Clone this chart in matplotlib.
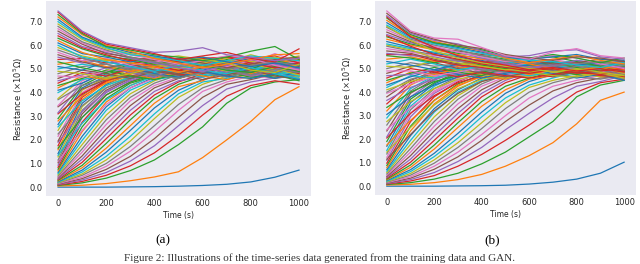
import matplotlib
matplotlib.use("Agg")
import matplotlib.pyplot as plt

# time axis (s), values read every 100 s
time_s = [0, 100, 200, 300, 400, 500, 600, 700, 800, 900, 1000]

# panel (a): resistance curves (x1e5 ohm)
curves_a = [
    [0.00, 0.00, 0.00, 0.01, 0.02, 0.04, 0.07, 0.12, 0.22, 0.42, 0.72],
    [0.05, 0.08, 0.15, 0.27, 0.43, 0.65, 1.25, 2.00, 2.78, 3.70, 4.25],
    [0.07, 0.18, 0.38, 0.70, 1.15, 1.80, 2.55, 3.55, 4.20, 4.45, 4.55],
    [0.09, 0.24, 0.50, 0.90, 1.45, 2.20, 3.05, 3.85, 4.30, 4.50, 4.35],
    [0.11, 0.30, 0.62, 1.10, 1.75, 2.60, 3.45, 4.15, 4.45, 4.62, 4.70],
    [0.13, 0.36, 0.75, 1.30, 2.05, 2.95, 3.80, 4.35, 4.55, 4.78, 4.90],
    [0.15, 0.42, 0.88, 1.52, 2.35, 3.25, 4.05, 4.45, 4.70, 4.62, 4.80],
    [0.17, 0.50, 1.00, 1.72, 2.60, 3.50, 4.20, 4.55, 4.85, 4.75, 5.05],
    [0.19, 0.56, 1.15, 1.95, 2.90, 3.80, 4.35, 4.70, 4.60, 4.90, 4.65],
    [0.21, 0.64, 1.30, 2.15, 3.10, 3.95, 4.45, 4.60, 4.95, 5.10, 4.85],
    [0.23, 0.72, 1.48, 2.40, 3.35, 4.10, 4.55, 4.85, 4.70, 5.00, 5.20],
    [0.26, 0.82, 1.65, 2.60, 3.55, 4.25, 4.50, 4.95, 5.15, 4.85, 4.95],
    [0.29, 0.92, 1.85, 2.85, 3.75, 4.35, 4.70, 4.80, 5.00, 5.25, 5.05],
    [0.32, 1.05, 2.05, 3.05, 3.90, 4.45, 4.80, 5.05, 4.90, 4.80, 5.15],
    [0.35, 1.18, 2.25, 3.25, 4.05, 4.50, 4.65, 4.95, 5.20, 5.05, 4.75],
    [0.39, 1.32, 2.45, 3.45, 4.20, 4.60, 4.90, 5.15, 4.85, 5.15, 5.30],
    [0.43, 1.48, 2.65, 3.65, 4.30, 4.65, 5.00, 4.85, 5.10, 5.30, 4.95],
    [0.47, 1.62, 2.85, 3.80, 4.40, 4.75, 4.85, 5.20, 5.30, 5.00, 5.15],
    [0.52, 1.80, 3.05, 3.95, 4.50, 4.85, 5.10, 4.95, 5.05, 5.35, 5.40],
    [0.57, 1.98, 3.25, 4.10, 4.55, 4.70, 4.95, 5.25, 5.40, 5.10, 4.90],
    [0.63, 2.15, 3.40, 4.20, 4.65, 4.95, 5.20, 5.05, 4.85, 5.20, 5.25],
    [0.69, 2.35, 3.60, 4.30, 4.75, 5.05, 4.90, 5.30, 5.15, 4.95, 5.10],
    [0.76, 2.55, 3.75, 4.40, 4.70, 4.85, 5.15, 5.00, 5.35, 5.45, 5.35],
    [0.84, 2.75, 3.90, 4.45, 4.85, 5.15, 5.30, 5.10, 4.95, 5.25, 5.00],
    [0.93, 2.95, 4.00, 4.55, 4.95, 4.90, 5.05, 5.40, 5.25, 5.05, 5.45],
    [1.03, 3.10, 4.10, 4.60, 4.80, 5.10, 5.25, 5.05, 5.35, 5.20, 5.00],
    [1.10, 2.40, 3.50, 4.20, 4.60, 4.85, 5.05, 4.90, 5.15, 5.00, 4.70],
    [1.15, 3.25, 4.20, 4.65, 4.95, 4.90, 5.10, 5.30, 5.00, 5.15, 5.35],
    [1.28, 3.40, 4.30, 4.70, 4.85, 5.20, 5.00, 5.15, 5.30, 5.45, 5.15],
    [1.35, 2.70, 3.70, 4.30, 4.70, 4.95, 4.80, 5.10, 4.95, 5.20, 5.05],
    [1.42, 3.55, 4.35, 4.80, 5.05, 4.95, 5.25, 5.40, 5.10, 5.00, 5.25],
    [1.58, 3.70, 4.45, 4.80, 5.00, 5.25, 5.05, 4.85, 5.10, 5.30, 4.80],
    [1.65, 2.95, 3.90, 4.45, 4.75, 4.60, 4.90, 5.05, 4.80, 4.65, 4.85],
    [1.75, 3.80, 4.50, 4.90, 5.15, 4.95, 4.80, 5.10, 5.35, 5.10, 5.35],
    [1.90, 3.20, 4.05, 4.50, 4.85, 5.10, 4.95, 4.75, 5.00, 4.90, 4.55],
    [1.95, 3.90, 4.55, 4.85, 5.00, 5.20, 5.30, 5.00, 4.85, 5.20, 4.90],
    [2.15, 4.00, 4.60, 5.00, 5.20, 5.00, 5.15, 5.35, 5.10, 5.00, 5.25],
    [2.25, 3.45, 4.20, 4.60, 4.80, 4.70, 5.00, 5.20, 4.90, 5.10, 5.00],
    [2.40, 4.10, 4.65, 4.95, 5.10, 5.30, 5.05, 5.20, 5.45, 5.25, 5.05],
    [2.55, 3.65, 4.30, 4.65, 4.95, 4.85, 4.65, 4.90, 5.10, 4.85, 4.70],
    [2.65, 4.20, 4.70, 5.05, 5.25, 5.05, 5.35, 5.15, 4.95, 5.40, 5.20],
    [2.80, 3.85, 4.40, 4.75, 4.60, 4.90, 5.10, 4.85, 4.70, 4.95, 5.15],
    [2.90, 4.30, 4.80, 5.00, 5.15, 5.35, 5.10, 5.40, 5.20, 5.05, 5.40],
    [3.10, 3.95, 4.50, 4.80, 4.95, 4.75, 4.85, 5.05, 5.25, 5.00, 4.80],
    [3.15, 4.40, 4.85, 5.15, 5.30, 5.15, 5.40, 5.25, 5.50, 5.30, 5.10],
    [3.40, 4.15, 4.55, 4.70, 4.90, 5.10, 4.90, 4.70, 4.85, 5.15, 4.95],
    [3.45, 4.50, 4.90, 5.10, 5.20, 5.40, 5.20, 5.45, 5.25, 5.65, 5.30],
    [3.70, 4.30, 4.60, 4.85, 4.70, 4.95, 5.15, 5.00, 4.80, 4.60, 4.75],
    [3.75, 4.60, 4.95, 5.25, 5.35, 5.20, 5.50, 5.30, 5.60, 5.35, 5.55],
    [4.00, 4.55, 4.75, 4.60, 4.85, 5.00, 4.75, 4.90, 5.15, 4.95, 4.70],
    [4.10, 4.40, 4.90, 5.05, 4.80, 4.65, 4.95, 5.20, 4.85, 4.60, 4.90],
    [4.20, 4.70, 4.55, 4.85, 5.10, 4.90, 4.70, 4.55, 4.80, 5.05, 5.20],
    [4.30, 4.60, 4.95, 4.70, 4.55, 4.80, 5.05, 4.85, 4.65, 4.75, 4.50],
    [4.40, 4.85, 4.70, 5.00, 5.20, 4.95, 4.80, 5.05, 5.25, 5.10, 4.85],
    [4.50, 4.75, 5.05, 4.85, 4.65, 5.10, 5.25, 4.95, 4.70, 4.90, 5.10],
    [4.60, 4.95, 4.80, 4.60, 4.90, 4.75, 4.55, 4.75, 4.95, 4.70, 4.60],
    [4.70, 4.65, 4.90, 5.15, 5.00, 5.20, 5.00, 5.30, 5.05, 5.20, 5.30],
    [4.80, 5.10, 5.20, 4.95, 4.75, 4.60, 4.85, 4.65, 4.90, 5.15, 4.95],
    [4.90, 4.80, 4.60, 4.80, 5.05, 5.30, 5.15, 4.90, 5.20, 5.00, 4.75],
    [5.00, 5.20, 5.05, 5.25, 4.95, 4.85, 5.10, 5.35, 5.10, 4.85, 5.05],
    [5.10, 4.95, 5.30, 5.10, 5.30, 5.05, 4.90, 4.70, 4.60, 4.80, 4.55],
    [5.20, 5.35, 5.10, 4.90, 5.15, 5.40, 5.30, 5.10, 5.35, 5.25, 5.40],
    [5.30, 5.05, 4.85, 5.20, 5.40, 5.15, 5.45, 5.25, 5.00, 5.35, 5.15],
    [5.40, 5.45, 5.25, 5.35, 5.10, 4.95, 5.20, 5.50, 5.45, 5.55, 5.25],
    [5.50, 5.25, 5.40, 5.05, 4.90, 5.25, 5.05, 4.85, 5.25, 5.05, 4.85],
    [5.60, 5.30, 5.05, 5.20, 4.95, 4.80, 5.05, 5.25, 5.00, 4.85, 5.10],
    [5.70, 5.35, 5.45, 5.15, 5.35, 5.10, 4.90, 5.10, 5.35, 5.20, 4.95],
    [5.80, 5.45, 5.20, 5.00, 5.15, 5.30, 5.20, 4.95, 4.75, 5.00, 4.85],
    [5.90, 5.55, 5.35, 5.45, 5.20, 5.00, 5.25, 5.45, 5.30, 5.50, 5.35],
    [6.00, 5.50, 5.30, 5.10, 4.90, 5.15, 4.95, 4.80, 5.05, 4.80, 4.60],
    [6.10, 5.65, 5.50, 5.30, 5.45, 5.25, 5.40, 5.20, 5.45, 5.25, 5.20],
    [6.20, 5.70, 5.40, 5.25, 5.10, 4.85, 5.10, 5.30, 5.15, 5.35, 5.45],
    [6.30, 5.85, 5.55, 5.40, 5.20, 5.35, 5.15, 4.95, 4.85, 5.10, 4.90],
    [6.40, 5.90, 5.60, 5.35, 5.50, 5.30, 5.45, 5.50, 5.25, 5.05, 5.25],
    [6.50, 5.95, 5.70, 5.45, 5.25, 5.05, 4.90, 5.15, 5.40, 5.20, 5.00],
    [6.60, 6.05, 5.65, 5.50, 5.35, 5.45, 5.25, 5.05, 5.20, 5.40, 5.50],
    [6.70, 6.10, 5.75, 5.60, 5.40, 5.20, 5.35, 5.55, 5.45, 5.15, 4.95],
    [6.80, 6.15, 5.80, 5.50, 5.30, 5.10, 5.20, 5.00, 5.15, 5.30, 5.15],
    [6.90, 6.25, 5.85, 5.65, 5.45, 5.55, 5.40, 5.25, 4.95, 4.85, 5.20],
    [7.00, 6.30, 5.90, 5.60, 5.50, 5.35, 5.15, 5.35, 5.55, 5.45, 5.35],
    [7.10, 6.35, 5.95, 5.70, 5.55, 5.40, 5.50, 5.30, 5.10, 5.25, 5.05],
    [7.20, 6.45, 6.00, 5.75, 5.45, 5.25, 5.05, 5.20, 5.40, 5.60, 5.65],
    [7.30, 6.50, 5.95, 5.80, 5.60, 5.50, 5.35, 5.50, 5.75, 5.95, 5.40],
    [7.40, 6.55, 6.05, 5.85, 5.65, 5.40, 5.55, 5.70, 5.45, 5.30, 5.85],
    [7.45, 6.60, 6.10, 5.90, 5.70, 5.75, 5.90, 5.60, 5.50, 5.35, 5.45],
]

# panel (b): generated curves
curves_b = [
    [0.00, 0.00, 0.00, 0.01, 0.02, 0.04, 0.09, 0.17, 0.30, 0.55, 1.02],
    [0.05, 0.08, 0.15, 0.28, 0.50, 0.85, 1.30, 1.85, 2.65, 3.65, 4.00],
    [0.07, 0.15, 0.30, 0.55, 0.95, 1.45, 2.10, 2.75, 3.80, 4.30, 4.50],
    [0.09, 0.22, 0.45, 0.85, 1.35, 1.95, 2.60, 3.30, 4.00, 4.40, 4.55],
    [0.11, 0.28, 0.58, 1.05, 1.65, 2.40, 3.10, 3.75, 4.25, 4.45, 4.70],
    [0.13, 0.34, 0.72, 1.25, 1.95, 2.75, 3.45, 4.05, 4.40, 4.60, 4.65],
    [0.15, 0.40, 0.85, 1.45, 2.20, 3.00, 3.75, 4.25, 4.50, 4.70, 4.80],
    [0.17, 0.47, 0.98, 1.65, 2.45, 3.30, 4.00, 4.40, 4.65, 4.55, 4.75],
    [0.19, 0.54, 1.12, 1.85, 2.70, 3.55, 4.20, 4.50, 4.70, 4.80, 4.60],
    [0.21, 0.62, 1.26, 2.05, 2.95, 3.75, 4.30, 4.60, 4.85, 4.70, 4.90],
    [0.24, 0.70, 1.40, 2.25, 3.15, 3.95, 4.45, 4.75, 4.65, 4.90, 4.85],
    [0.27, 0.80, 1.58, 2.50, 3.40, 4.10, 4.55, 4.70, 4.90, 5.00, 4.75],
    [0.30, 0.90, 1.75, 2.70, 3.60, 4.25, 4.60, 4.85, 5.00, 4.85, 5.05],
    [0.34, 1.02, 1.95, 2.90, 3.80, 4.40, 4.75, 4.95, 4.80, 5.05, 4.90],
    [0.38, 1.15, 2.15, 3.10, 3.95, 4.50, 4.85, 4.75, 5.05, 4.90, 4.70],
    [0.42, 1.30, 2.35, 3.30, 4.10, 4.60, 4.70, 5.00, 4.85, 4.75, 5.00],
    [0.47, 1.45, 2.55, 3.50, 4.25, 4.65, 4.95, 4.80, 5.10, 5.00, 4.85],
    [0.52, 1.60, 2.75, 3.70, 4.35, 4.75, 4.80, 5.05, 4.90, 5.10, 5.10],
    [0.58, 1.78, 2.95, 3.85, 4.45, 4.85, 5.05, 4.90, 4.75, 4.95, 4.80],
    [0.64, 1.95, 3.15, 4.00, 4.50, 4.70, 4.90, 5.15, 5.00, 4.80, 4.95],
    [0.71, 2.15, 3.30, 4.10, 4.60, 4.95, 5.10, 4.95, 5.15, 5.05, 5.20],
    [0.79, 2.35, 3.50, 4.25, 4.70, 4.85, 4.95, 5.20, 4.95, 4.85, 4.65],
    [0.88, 2.55, 3.65, 4.35, 4.75, 5.05, 5.20, 5.00, 4.80, 5.15, 5.05],
    [0.98, 2.75, 3.80, 4.45, 4.85, 4.90, 5.05, 5.25, 5.10, 4.95, 4.80],
    [1.10, 2.95, 3.95, 4.50, 4.80, 5.10, 4.90, 4.85, 5.20, 5.10, 5.15],
    [1.15, 2.20, 3.20, 3.95, 4.45, 4.70, 4.90, 4.75, 4.95, 4.80, 4.60],
    [1.23, 3.10, 4.05, 4.60, 4.95, 5.20, 5.15, 5.05, 4.90, 4.75, 4.90],
    [1.37, 3.25, 4.15, 4.65, 5.00, 4.95, 5.30, 5.15, 5.05, 5.20, 4.95],
    [1.45, 2.50, 3.45, 4.15, 4.55, 4.80, 4.65, 4.90, 4.75, 4.95, 4.85],
    [1.52, 3.40, 4.25, 4.75, 4.90, 5.15, 5.00, 4.85, 5.15, 5.00, 5.10],
    [1.70, 3.55, 4.35, 4.80, 5.10, 5.30, 5.10, 5.20, 4.95, 4.85, 4.70],
    [1.75, 2.80, 3.65, 4.30, 4.65, 4.55, 4.85, 5.00, 4.80, 4.70, 4.95],
    [1.90, 3.70, 4.40, 4.85, 5.05, 5.00, 4.90, 5.05, 5.25, 5.10, 5.25],
    [2.05, 3.10, 3.85, 4.40, 4.70, 4.95, 4.80, 4.65, 4.90, 4.85, 4.65],
    [2.10, 3.80, 4.50, 4.95, 5.20, 5.25, 5.20, 4.95, 5.05, 4.90, 4.85],
    [2.35, 3.95, 4.55, 4.90, 5.00, 4.95, 5.15, 5.30, 5.00, 5.15, 5.00],
    [2.40, 3.35, 4.00, 4.50, 4.80, 4.70, 4.95, 5.05, 4.85, 5.00, 4.90],
    [2.60, 4.05, 4.65, 5.05, 5.25, 5.15, 4.95, 5.10, 5.20, 4.95, 5.15],
    [2.75, 3.60, 4.15, 4.55, 4.75, 4.90, 4.70, 4.85, 5.00, 4.80, 4.75],
    [2.90, 4.15, 4.70, 4.95, 5.10, 5.35, 5.25, 5.00, 4.85, 5.05, 4.90],
    [3.05, 3.80, 4.30, 4.65, 4.90, 4.75, 4.90, 5.00, 4.75, 4.90, 5.00],
    [3.20, 4.30, 4.80, 5.10, 5.30, 5.05, 5.10, 5.25, 5.10, 5.25, 5.05],
    [3.35, 4.00, 4.45, 4.70, 4.85, 5.00, 4.85, 4.70, 4.90, 5.05, 4.80],
    [3.50, 4.40, 4.85, 5.00, 5.15, 5.25, 5.00, 4.90, 5.15, 5.00, 4.80],
    [3.65, 4.20, 4.55, 4.80, 4.70, 4.85, 5.05, 4.90, 4.80, 4.70, 4.85],
    [3.80, 4.50, 4.90, 5.15, 5.05, 4.95, 5.20, 5.10, 4.95, 4.85, 5.10],
    [3.95, 4.35, 4.65, 4.75, 4.95, 4.80, 4.70, 4.95, 5.05, 4.85, 4.95],
    [4.00, 4.55, 4.80, 4.65, 4.90, 5.05, 4.80, 4.70, 4.95, 4.75, 4.55],
    [4.10, 4.45, 4.70, 4.95, 4.75, 4.60, 4.85, 5.00, 4.80, 4.65, 4.75],
    [4.20, 4.70, 4.60, 4.85, 5.05, 4.85, 4.70, 4.85, 5.05, 4.90, 5.05],
    [4.30, 4.65, 4.95, 4.75, 4.60, 4.80, 5.00, 4.80, 4.60, 4.75, 4.50],
    [4.40, 4.85, 4.75, 5.00, 5.15, 4.95, 4.75, 4.95, 5.10, 5.00, 4.85],
    [4.50, 4.80, 5.05, 4.85, 4.70, 5.05, 5.15, 4.90, 4.75, 4.95, 5.20],
    [4.60, 5.00, 4.85, 4.65, 4.85, 4.70, 4.60, 4.75, 4.90, 4.70, 4.65],
    [4.70, 4.75, 4.95, 5.15, 5.00, 5.10, 4.95, 5.15, 5.00, 5.10, 5.00],
    [4.80, 5.10, 5.25, 5.00, 4.80, 4.65, 4.85, 4.70, 4.85, 5.05, 4.90],
    [4.90, 4.90, 4.70, 4.85, 5.05, 5.20, 5.05, 4.85, 5.10, 4.90, 4.80],
    [5.00, 5.25, 5.10, 5.20, 4.95, 4.85, 5.00, 5.20, 5.00, 4.80, 5.05],
    [5.10, 5.05, 5.35, 5.15, 5.25, 5.00, 4.85, 4.70, 4.65, 4.80, 4.60],
    [5.20, 5.40, 5.20, 4.95, 5.10, 5.30, 5.15, 5.00, 5.20, 5.15, 5.25],
    [5.30, 5.15, 4.95, 5.20, 5.35, 5.10, 5.30, 5.10, 4.90, 5.15, 5.00],
    [5.40, 5.50, 5.30, 5.35, 5.10, 4.95, 5.10, 5.30, 5.25, 5.30, 5.10],
    [5.55, 5.45, 5.25, 5.40, 5.15, 5.00, 5.15, 5.25, 5.05, 4.90, 5.10],
    [5.60, 5.60, 5.35, 5.15, 5.05, 4.90, 4.80, 4.95, 4.85, 4.75, 4.90],
    [5.65, 5.55, 5.50, 5.30, 5.40, 5.20, 5.00, 5.10, 5.30, 5.15, 4.95],
    [5.75, 5.65, 5.40, 5.20, 5.30, 5.35, 5.20, 4.95, 4.85, 5.05, 4.90],
    [5.85, 5.70, 5.55, 5.50, 5.30, 5.10, 5.25, 5.40, 5.20, 5.30, 5.20],
    [5.95, 5.75, 5.60, 5.35, 5.20, 5.25, 5.05, 4.90, 5.10, 4.95, 4.75],
    [6.00, 5.80, 5.45, 5.25, 5.10, 4.95, 5.05, 4.85, 4.95, 5.05, 4.80],
    [6.05, 5.85, 5.70, 5.55, 5.45, 5.30, 5.40, 5.20, 5.35, 5.20, 5.15],
    [6.15, 5.90, 5.65, 5.50, 5.30, 5.05, 5.15, 5.30, 5.15, 5.25, 5.30],
    [6.25, 6.00, 5.80, 5.60, 5.40, 5.35, 5.20, 5.00, 4.90, 5.10, 4.95],
    [6.35, 6.05, 5.85, 5.65, 5.55, 5.40, 5.45, 5.50, 5.30, 5.10, 5.20],
    [6.40, 5.95, 5.60, 5.40, 5.20, 5.05, 4.90, 5.00, 4.80, 4.90, 5.00],
    [6.45, 6.10, 5.90, 5.70, 5.45, 5.20, 5.05, 5.15, 5.35, 5.20, 5.05],
    [6.55, 6.15, 5.85, 5.75, 5.60, 5.50, 5.35, 5.20, 5.25, 5.40, 5.30],
    [6.65, 6.20, 5.95, 5.70, 5.50, 5.30, 5.40, 5.55, 5.45, 5.20, 5.00],
    [6.75, 6.25, 6.00, 5.80, 5.55, 5.35, 5.25, 5.10, 5.20, 5.30, 5.15],
    [6.80, 6.20, 5.75, 5.45, 5.25, 5.10, 5.00, 4.85, 5.00, 4.85, 4.70],
    [6.85, 6.30, 6.05, 5.85, 5.65, 5.45, 5.35, 5.30, 5.15, 5.05, 5.25],
    [6.95, 6.35, 6.10, 5.90, 5.70, 5.50, 5.40, 5.50, 5.60, 5.40, 5.35],
    [7.05, 6.40, 6.15, 5.95, 5.75, 5.45, 5.25, 5.40, 5.55, 5.35, 5.20],
    [7.15, 6.45, 6.10, 5.95, 5.80, 5.55, 5.45, 5.60, 5.45, 5.25, 5.45],
    [7.20, 6.35, 5.90, 5.55, 5.30, 5.15, 4.95, 5.05, 4.90, 5.00, 4.85],
    [7.25, 6.50, 6.20, 6.05, 5.75, 5.50, 5.55, 5.75, 5.80, 5.50, 5.40],
    [7.35, 6.55, 6.25, 6.00, 5.85, 5.60, 5.45, 5.35, 5.50, 5.45, 5.30],
    [7.45, 6.60, 6.30, 6.25, 5.90, 5.55, 5.40, 5.70, 5.85, 5.55, 5.45],
]

x_ticks = [0, 200, 400, 600, 800, 1000]
y_ticks = [0.0, 1.0, 2.0, 3.0, 4.0, 5.0, 6.0, 7.0]
panel_labels = ["(a)", "(b)"]
caption = "Figure 2: Illustrations of the time-series data generated from the training data and GAN."

fig = plt.figure(figsize=(6.4, 2.64), dpi=100)
ax_a = fig.add_axes([0.0719, 0.2576, 0.4141, 0.7386])
ax_b = fig.add_axes([0.5859, 0.2614, 0.4078, 0.7348])

for ax, curves in [(ax_a, curves_a), (ax_b, curves_b)]:
    ax.set_facecolor("#EAEAF2")
    # curves drawn in order of starting value, default colour cycle
    for c in sorted(curves, key=lambda r: r[0]):
        ax.plot(time_s, c, lw=0.9)
    ax.set_xlim(-50, 1050)
    ax.set_ylim(-0.375, 7.875)
    ax.set_xticks(x_ticks)
    ax.set_yticks(y_ticks)
    ax.set_yticklabels(["%.1f" % v for v in y_ticks])
    ax.tick_params(length=0, labelsize=6, colors="#262626", pad=2.5)
    for s in ax.spines.values():
        s.set_visible(False)
    ax.set_xlabel("Time (s)", fontsize=5.5, color="#262626", labelpad=2)
    ax.set_ylabel("Resistance (×10$^5$Ω)", fontsize=6, color="#262626", labelpad=3)

fig.text(163 / 640, 1 - 240 / 264, panel_labels[0], fontsize=9.5,
         family="Liberation Serif", ha="center", va="center")
fig.text(492 / 640, 1 - 240 / 264, panel_labels[1], fontsize=9.5,
         family="Liberation Serif", ha="center", va="center")
fig.text(0.5, 0.004, caption, fontsize=8, family="Liberation Serif",
         ha="center", va="bottom", color="#333333")

fig.savefig("out.png", dpi=100)
